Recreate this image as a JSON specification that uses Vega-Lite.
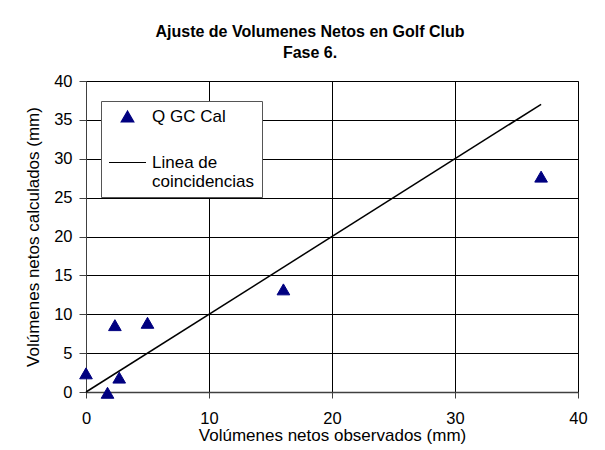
{
  "$schema": "https://vega.github.io/schema/vega-lite/v6.json",
  "width": 492,
  "height": 311,
  "autosize": {"type": "none"},
  "padding": {"left": 86, "top": 81, "right": 27, "bottom": 58},
  "background": "white",
  "config": {
    "font": "Liberation Sans",
    "view": {"stroke": "#808080", "strokeWidth": 1},
    "legend": {
      "orient": "none",
      "legendX": 15,
      "legendY": 20,
      "fillColor": "white",
      "strokeColor": "#555",
      "padding": 7,
      "symbolStrokeWidth": 1.2,
      "labelFont": "Liberation Sans",
      "labelFontSize": 17,
      "labelColor": "#000",
      "labelOffset": 5,
      "labelLimit": 200,
      "rowPadding": 18
    }
  },
  "title": {
    "text": ["Ajuste de Volumenes Netos en Golf Club", "Fase 6."],
    "font": "Liberation Sans",
    "fontSize": 16,
    "fontWeight": "bold",
    "color": "#000",
    "anchor": "middle",
    "dx": -22,
    "lineHeight": 21,
    "offset": 12
  },
  "encoding": {
    "x": {
      "field": "obs", "type": "quantitative",
      "scale": {"domain": [0, 40], "nice": false, "zero": false},
      "axis": {
        "title": "Volúmenes netos observados (mm)",
        "values": [0, 10, 20, 30, 40],
        "grid": true, "gridColor": "#000", "gridOpacity": 1, "gridWidth": 1,
        "domainColor": "#404040", "domainWidth": 1.5,
        "tickColor": "#404040", "tickSize": 6,
        "labelFont": "Liberation Sans", "labelFontSize": 16.5, "labelColor": "#000",
        "labelPadding": 12, "labelFlush": false,
        "titleFont": "Liberation Sans", "titleFontSize": 17, "titleFontWeight": "normal", "titleColor": "#000",
        "titlePadding": 1
      }
    },
    "y": {
      "field": "calc", "type": "quantitative",
      "scale": {"domain": [0, 40], "nice": false, "zero": false},
      "axis": {
        "title": "Volúmenes netos calculados (mm)",
        "values": [0, 5, 10, 15, 20, 25, 30, 35, 40],
        "grid": true, "gridColor": "#000", "gridOpacity": 1, "gridWidth": 1,
        "domainColor": "#404040", "domainWidth": 1,
        "tickColor": "#404040", "tickSize": 7,
        "labelFont": "Liberation Sans", "labelFontSize": 16.5, "labelColor": "#000",
        "labelPadding": 7, "labelFlush": false, "labelOverlap": false,
        "titleFont": "Liberation Sans", "titleFontSize": 17, "titleFontWeight": "normal", "titleColor": "#000",
        "titlePadding": 11
      }
    }
  },
  "layer": [
    {
      "data": {"values": [
        {"obs": 0, "calc": 0, "series": "Linea de coincidencias"},
        {"obs": 37, "calc": 37, "series": "Linea de coincidencias"}
      ]},
      "mark": {"type": "line", "strokeWidth": 1.5, "color": "#000"},
      "encoding": {}
    },
    {
      "data": {"values": [
        {"obs": 0, "calc": 2.4, "series": "Q GC Cal"},
        {"obs": 1.75, "calc": -0.1, "series": "Q GC Cal"},
        {"obs": 2.35, "calc": 8.6, "series": "Q GC Cal"},
        {"obs": 2.7, "calc": 1.85, "series": "Q GC Cal"},
        {"obs": 5.0, "calc": 8.9, "series": "Q GC Cal"},
        {"obs": 16.05, "calc": 13.2, "series": "Q GC Cal"},
        {"obs": 37.0, "calc": 27.7, "series": "Q GC Cal"}
      ]},
      "mark": {"type": "point", "filled": true, "strokeWidth": 1, "opacity": 1},
      "encoding": {
        "color": {
          "field": "series", "type": "nominal",
          "scale": {"domain": ["Q GC Cal", "Linea de coincidencias"], "range": ["#000080", "#000000"]},
          "legend": {
            "title": null,
            "labelExpr": "datum.value == 'Linea de coincidencias' ? ['Linea de', 'coincidencias'] : datum.value"
          }
        },
        "stroke": {
          "field": "series", "type": "nominal",
          "scale": {"domain": ["Q GC Cal", "Linea de coincidencias"], "range": ["#000080", "#000000"]},
          "legend": {
            "title": null,
            "labelExpr": "datum.value == 'Linea de coincidencias' ? ['Linea de', 'coincidencias'] : datum.value"
          }
        },
        "shape": {
          "field": "series", "type": "nominal",
          "scale": {"domain": ["Q GC Cal", "Linea de coincidencias"], "range": ["triangle-up", "stroke"]},
          "legend": {
            "title": null,
            "labelExpr": "datum.value == 'Linea de coincidencias' ? ['Linea de', 'coincidencias'] : datum.value"
          }
        },
        "size": {
          "field": "series", "type": "ordinal",
          "scale": {"domain": ["Q GC Cal", "Linea de coincidencias"], "range": [160, 1369]},
          "legend": {
            "title": null,
            "labelExpr": "datum.value == 'Linea de coincidencias' ? ['Linea de', 'coincidencias'] : datum.value"
          }
        }
      }
    }
  ]
}
